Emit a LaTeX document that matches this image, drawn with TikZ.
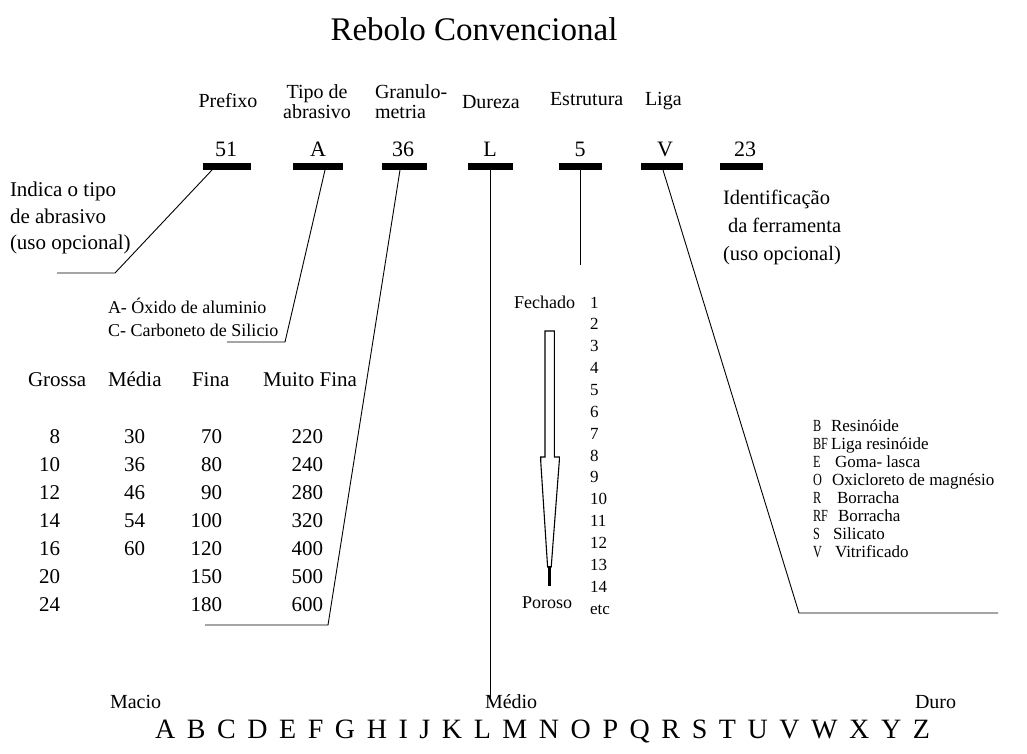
\documentclass[tikz,border=0pt]{standalone}
\usepackage{graphicx}
\usepackage{fontspec}
\setmainfont{Liberation Serif}
\newfontfamily\tms{Liberation Serif}
\usetikzlibrary{calc}
\begin{document}
\begin{tikzpicture}[x=1pt,y=-1pt,
  every node/.style={inner sep=0pt, outer sep=0pt},
  ttl/.style={font=\tms\fontsize{33}{36}\selectfont, anchor=base},
  hdr/.style={font=\tms\fontsize{20}{20}\selectfont, anchor=base west},
  hdrc/.style={font=\tms\fontsize{20}{20}\selectfont, anchor=base},
  val/.style={font=\tms\fontsize{22}{22}\selectfont, anchor=base},
  bar/.style={fill=black, minimum height=7pt, inner sep=0pt},
  txt/.style={font=\tms\fontsize{21}{21}\selectfont, anchor=base west},
  sml/.style={font=\tms\fontsize{18}{18}\selectfont, anchor=base west},
  leg/.style={font=\tms\fontsize{17}{17}\selectfont, anchor=base west},
  tabh/.style={font=\tms\fontsize{21}{21}\selectfont, anchor=base west},
  tabn/.style={font=\tms\fontsize{21}{21}\selectfont, anchor=base east},
  num/.style={font=\tms\fontsize{17}{17}\selectfont, anchor=base west},
  lnk/.style={line width=0.9pt},
  ]
\fill[white] (0,0) rectangle (1027,753);
\useasboundingbox (0,0) rectangle (1027,753);

% title
\node[ttl] (title) at (474,40) {Rebolo Convencional};

% headers
\node[hdrc] (hpre) at (228,107) {Prefixo};
\node[hdrc] (htipo1) at (317,98) {Tipo de};
\node[hdrc] (htipo2) at (317,118) {abrasivo};
\node[hdr] (hgr1) at (375,98) {Granulo-};
\node[hdr] (hgr2) at (375,118) {metria};
\node[hdr] (hdur) at (462,108) {Dureza};
\node[hdr] (hest) at (550,105) {Estrutura};
\node[hdr] (hlig) at (645,105) {Liga};

% values
\node[val] (v1) at (226,156) {51};
\node[val] (v2) at (318,156) {A};
\node[val] (v3) at (403,156) {36};
\node[val] (v4) at (490,156) {L};
\node[val] (v5) at (580,156) {5};
\node[val] (v6) at (665,156) {V};
\node[val] (v7) at (745,156) {23};

% bars
\node[bar, minimum width=48pt] (b1) at (227,166.5) {};
\node[bar, minimum width=50pt] (b2) at (318,166.5) {};
\node[bar, minimum width=45pt] (b3) at (404.5,166.5) {};
\node[bar, minimum width=45pt] (b4) at (490.5,166.5) {};
\node[bar, minimum width=43pt] (b5) at (580.5,166.5) {};
\node[bar, minimum width=42pt] (b6) at (662,166.5) {};
\node[bar, minimum width=43pt] (b7) at (741.5,166.5) {};

% left note
\node[txt] (n1a) at (10,196) {Indica o tipo};
\node[txt] (n1b) at (10,223) {de abrasivo};
\node[txt] (n1c) at (10,249) {(uso opcional)};
\coordinate (k1a) at (115,273);
\coordinate (k1b) at (57,273);
\draw[lnk] ([xshift=-15pt]b1.south) -- (k1a) -- (k1b);

% identification
\node[txt, font=\tms\fontsize{20.5}{20}\selectfont] (id1) at (723,204) {Identificação};
\node[txt, font=\tms\fontsize{20.5}{20}\selectfont] (id2) at (728,232) {da ferramenta};
\node[txt, font=\tms\fontsize{20.5}{20}\selectfont] (id3) at (723,260) {(uso opcional)};

% abrasive type
\node[sml] (ab1) at (108,313) {A- Óxido de aluminio};
\node[sml] (ab2) at (108,336) {C- Carboneto de Silicio};
\coordinate (k2a) at (285,342);
\coordinate (k2b) at (227,342);
\draw[lnk] ([xshift=7pt]b2.south) -- (k2a) -- (k2b);

% grain table
\node[tabh] (tg) at (28,386) {Grossa};
\node[tabh] (tm) at (108,386) {Média};
\node[tabh] (tf) at (192,386) {Fina};
\node[tabh] (tmf) at (263,386) {Muito Fina};
\foreach \a/\b/\c/\d [count=\k] in {8/30/70/220,10/36/80/240,12/46/90/280,14/54/100/320,16/60/120/400,20//150/500,24//180/600}{
  \node[tabn] (g\k) at (60,{443+28*(\k-1)}) {\a};
  \node[tabn] (m\k) at (145,{443+28*(\k-1)}) {\b};
  \node[tabn] (f\k) at (222,{443+28*(\k-1)}) {\c};
  \node[tabn] (mf\k) at (323,{443+28*(\k-1)}) {\d};
}
\coordinate (k3a) at (328,625);
\coordinate (k3b) at (205,625);
\draw[lnk] ([xshift=-4.5pt]b3.south) -- (k3a) -- (k3b);

% hardness
\coordinate (k4) at (490.5,700);
\draw[lnk] (b4.south) -- (k4);
\node[anchor=base west, font=\tms\fontsize{20}{20}\selectfont] (macio) at (110,708) {Macio};
\node[anchor=base west, font=\tms\fontsize{20}{20}\selectfont] (medio) at (485,708) {Médio};
\node[anchor=base west, font=\tms\fontsize{20}{20}\selectfont] (duro) at (915,708) {Duro};
\node[anchor=base west, font=\tms\fontsize{28}{28}\selectfont] (alpha) at (155,738)
  {\makebox[775pt][s]{A B C D E F G H I J K L M N O P Q R S T U V W X Y Z}};

% structure
\coordinate (k5) at (580.5,265);
\draw[lnk] (b5.south) -- (k5);
\node[anchor=base east, font=\tms\fontsize{18}{18}\selectfont] (fech) at (575,308) {Fechado};
\node[anchor=base, font=\tms\fontsize{18}{18}\selectfont] (poro) at (547,608) {Poroso};
\foreach \n [count=\k] in {1,2,3,4,5,6,7,8,9,10,11,12,13,14,etc}{
  \node[num] (s\k) at (590,{308+21.86*(\k-1)}) {\n};
}
\draw[line width=1.1pt, line join=miter] (545,331) -- (554.3,331) -- (554.3,457) -- (559.3,457) -- (559.3,461)
  -- (551.2,567) -- (547.6,567) -- (540.7,461) -- (540.7,457) -- (545,457) -- cycle;
\draw[line width=2.2pt] (549.4,566) -- (549.4,586);

% bond
\coordinate (k6a) at (799,613);
\coordinate (k6b) at (998,613);
\draw[lnk] ([xshift=1pt]b6.south) -- (k6a) -- (k6b);
\foreach \l/\xx/\t [count=\k] in {B/831/Resinóide,BF/831/Liga resinóide,E/835/Goma- lasca,O/832/Oxicloreto de magnésio,R/837/Borracha,RF/838/Borracha,S/833/Silicato,V/835/Vitrificado}{
  \node[leg] (lc\k) at (813,{431+18*(\k-1)}) {\scalebox{0.72}[1]{\l}};
  \node[leg] (ld\k) at (\xx,{431+18*(\k-1)}) {\t};
}
\end{tikzpicture}
\end{document}
